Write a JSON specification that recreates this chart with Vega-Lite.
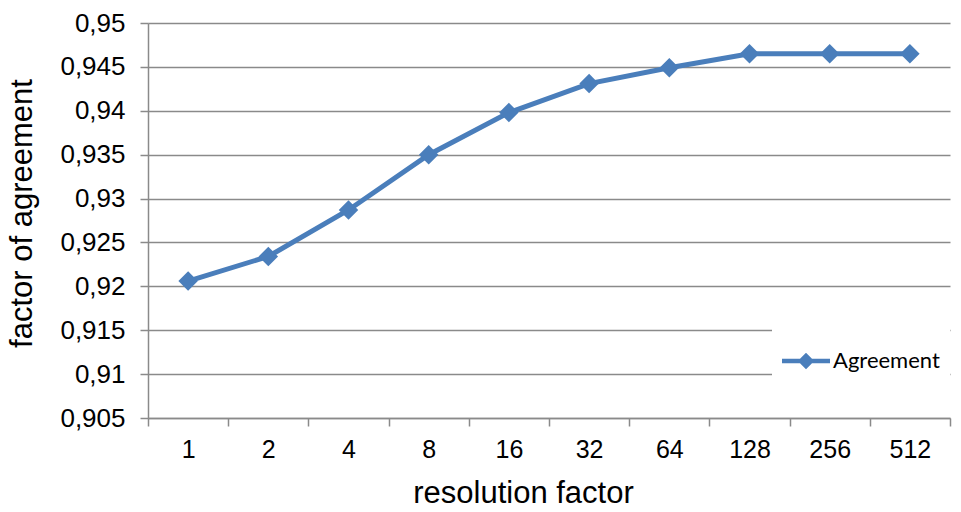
{
  "$schema": "https://vega.github.io/schema/vega-lite/v6.json",
  "width": 802,
  "height": 395,
  "autosize": {"type": "none"},
  "padding": {"left": 148, "top": 23, "right": 11, "bottom": 94},
  "background": "white",
  "config": {"view": {"stroke": null}, "font": "Liberation Sans"},
  "data": {
    "values": [
      {"factor": "1", "agreement": 0.9206, "series": "Agreement"},
      {"factor": "2", "agreement": 0.9234, "series": "Agreement"},
      {"factor": "4", "agreement": 0.9287, "series": "Agreement"},
      {"factor": "8", "agreement": 0.935, "series": "Agreement"},
      {"factor": "16", "agreement": 0.9398, "series": "Agreement"},
      {"factor": "32", "agreement": 0.9431, "series": "Agreement"},
      {"factor": "64", "agreement": 0.9449, "series": "Agreement"},
      {"factor": "128", "agreement": 0.9465, "series": "Agreement"},
      {"factor": "256", "agreement": 0.9465, "series": "Agreement"},
      {"factor": "512", "agreement": 0.9465, "series": "Agreement"}
    ]
  },
  "mark": {
    "type": "line",
    "strokeWidth": 5,
    "point": {"shape": "diamond", "size": 380, "filled": true, "opacity": 1}
  },
  "encoding": {
    "x": {
      "field": "factor",
      "type": "ordinal",
      "sort": ["1", "2", "4", "8", "16", "32", "64", "128", "256", "512"],
      "scale": {"type": "band", "paddingInner": 0, "paddingOuter": 0},
      "axis": {
        "title": "resolution factor",
        "titleFont": "Liberation Sans",
        "titleFontSize": 31,
        "titleFontWeight": "normal",
        "titleColor": "#000000",
        "titleX": 375,
        "titleY": 84,
        "titleBaseline": "alphabetic",
        "titleAlign": "center",
        "labelAngle": 0,
        "labelFont": "Liberation Sans",
        "labelFontSize": 25,
        "labelColor": "#000000",
        "labelPadding": 11,
        "tickSize": 8,
        "tickBand": "extent",
        "domainColor": "#8a8a8a",
        "domainWidth": 1.5,
        "tickColor": "#8a8a8a",
        "tickWidth": 1.5,
        "grid": false
      }
    },
    "y": {
      "field": "agreement",
      "type": "quantitative",
      "scale": {"domain": [0.905, 0.95], "nice": false, "zero": false},
      "axis": {
        "title": "factor of agreement",
        "titleFont": "Liberation Sans",
        "titleFontSize": 31,
        "titleFontWeight": "normal",
        "titleColor": "#000000",
        "titleX": -117,
        "titleY": 190,
        "titleBaseline": "alphabetic",
        "titleAlign": "center",
        "values": [0.905, 0.91, 0.915, 0.92, 0.925, 0.93, 0.935, 0.94, 0.945, 0.95],
        "labelExpr": "replace(format(datum.value, '.3~f'), '.', ',')",
        "labelFont": "Liberation Sans",
        "labelFontSize": 26,
        "labelColor": "#000000",
        "labelPadding": 15,
        "tickSize": 8,
        "tickColor": "#8a8a8a",
        "tickWidth": 1.5,
        "domainColor": "#8a8a8a",
        "domainWidth": 1.5,
        "grid": true,
        "gridColor": "#8a8a8a",
        "gridWidth": 1.5
      }
    },
    "color": {
      "field": "series",
      "type": "nominal",
      "scale": {"range": ["#4a7ebb"]},
      "legend": {
        "title": null,
        "orient": "none",
        "legendX": 624,
        "legendY": 304,
        "fillColor": "white",
        "padding": 10,
        "labelFont": "Lato",
        "labelFontSize": 22,
        "labelColor": "#000000",
        "labelOffset": 3,
        "symbolType": "M-1,-0.09L-0.25,-0.09L0,-0.34L0.25,-0.09L1,-0.09L1,0.09L0.25,0.09L0,0.34L-0.25,0.09L-1,0.09Z",
        "symbolSize": 2304,
        "encode": {
          "symbols": {
            "update": {
              "fill": {"value": "#4a7ebb"},
              "stroke": {"value": "#4a7ebb"},
              "strokeWidth": {"value": 0},
              "opacity": {"value": 1}
            }
          }
        }
      }
    }
  }
}
